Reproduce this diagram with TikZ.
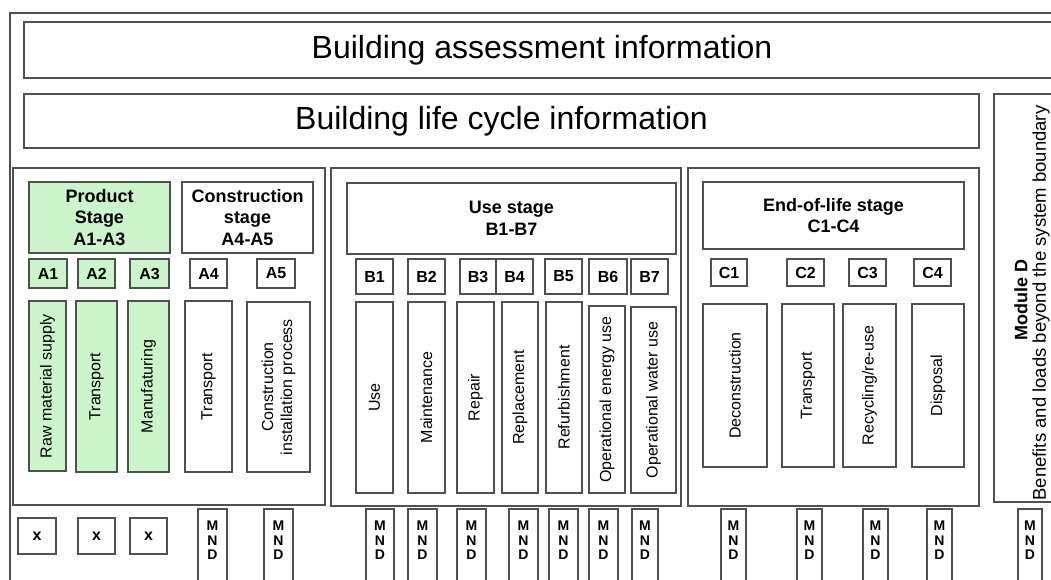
\documentclass[tikz,border=0pt]{standalone}
\usepackage{fontspec}
\setmainfont{Liberation Sans}
\definecolor{linec}{RGB}{80,80,80}
\definecolor{prodgreen}{RGB}{204,245,204}
\tikzset{
  box/.style={draw=linec,line width=1.2pt},
  greenbox/.style={box,fill=prodgreen},
  titletxt/.style={font=\fontsize{32}{38}\selectfont},
  stagetxt/.style={font=\bfseries\fontsize{18}{21.5}\selectfont,align=center},
  codetxt/.style={font=\bfseries\fontsize{16}{18}\selectfont},
  vtxt/.style={rotate=90,font=\fontsize{16}{19}\selectfont,align=center},
  mndtxt/.style={font=\bfseries\fontsize{14}{14.5}\selectfont,align=center,anchor=north,inner sep=0pt},
}
\begin{document}
\begin{tikzpicture}[x=1pt,y=-1pt]
\useasboundingbox (0,0) rectangle (1051,579);
\clip (0,0) rectangle (1051,579);
% outer frames
\draw[box] (10,13) rectangle (1075,600);
\draw[box] (24,22) rectangle (1060,78) node[midway,titletxt] (assess) {Building assessment information};
\draw[box] (24,94) rectangle (979,148) node[midway,titletxt] (lifecycle) {Building life cycle information};
\draw[box] (994,94) rectangle (1065,502);
\node[rotate=90,font=\bfseries\fontsize{18}{20}\selectfont] (moduled) at (1021,300) {Module D};
\node[rotate=90,font=\fontsize{18.5}{20}\selectfont] (beyond) at (1041,303) {Benefits and loads beyond the system boundary};
% product and construction
\draw[box] (13,168) rectangle (325,505);
\draw[greenbox] (29,182) rectangle (170,253) node[midway,stagetxt] (prodstage) {Product\\Stage\\A1-A3};
\draw[box] (182,182) rectangle (313,253) node[midway,stagetxt] (conststage) {Construction\\stage\\A4-A5};
\draw[greenbox] (29,259) rectangle (67,288) node[midway,codetxt] (a1) {A1};
\draw[greenbox] (78,259) rectangle (115,288) node[midway,codetxt] (a2) {A2};
\draw[greenbox] (130,259) rectangle (169,288) node[midway,codetxt] (a3) {A3};
\draw[box] (190,259) rectangle (227,288) node[midway,codetxt] (a4) {A4};
\draw[box] (257,259) rectangle (295,288) node[midway,codetxt] (a5) {A5};
\draw[greenbox] (29,301) rectangle (66,471) node[midway,vtxt] (raw) {Raw material supply};
\draw[greenbox] (76,301) rectangle (117,472) node[midway,vtxt] (transpa) {Transport};
\draw[greenbox] (128,301) rectangle (169,472) node[midway,vtxt] (manuf) {Manufaturing};
\draw[box] (185,301) rectangle (232,472) node[midway,vtxt] (transpb) {Transport};
\draw[box] (247,302) rectangle (310,472) node[midway,vtxt] (install) {Construction\\installation process};
% use stage
\draw[box] (331,168) rectangle (681,506);
\draw[box] (347,183) rectangle (676,254) node[midway,stagetxt] (usestage) {Use stage\\B1-B7};
\draw[box] (356,259) rectangle (393,294) node[midway,codetxt] (b1) {B1};
\draw[box] (408,259) rectangle (445,294) node[midway,codetxt] (b2) {B2};
\draw[box] (460,259) rectangle (496,294) node[midway,codetxt] (b3) {B3};
\draw[box] (496,259) rectangle (533,294) node[midway,codetxt] (b4) {B4};
\draw[box] (545,259) rectangle (582,294) node[midway,codetxt] (b5) {B5};
\draw[box] (589,259) rectangle (627,294) node[midway,codetxt] (b6) {B6};
\draw[box] (631,259) rectangle (668,294) node[midway,codetxt] (b7) {B7};
\draw[box] (356,302) rectangle (393,493) node[midway,vtxt] (use) {Use};
\draw[box] (408,302) rectangle (445,493) node[midway,vtxt] (maint) {Maintenance};
\draw[box] (457,302) rectangle (494,493) node[midway,vtxt] (repair) {Repair};
\draw[box] (502,302) rectangle (538,493) node[midway,vtxt] (replace) {Replacement};
\draw[box] (546,302) rectangle (582,493) node[midway,vtxt] (refurb) {Refurbishment};
\draw[box] (589,306) rectangle (625,493) node[midway,vtxt] (energy) {Operational energy use};
\draw[box] (631,307) rectangle (676,493) node[midway,vtxt] (water) {Operational water use};
% end of life
\draw[box] (688,168) rectangle (979,506);
\draw[box] (703,182) rectangle (964,249) node[midway,stagetxt] (eolstage) {End-of-life stage\\C1-C4};
\draw[box] (711,259) rectangle (747,286) node[midway,codetxt] (c1) {C1};
\draw[box] (787,259) rectangle (824,286) node[midway,codetxt] (c2) {C2};
\draw[box] (849,259) rectangle (886,286) node[midway,codetxt] (c3) {C3};
\draw[box] (914,259) rectangle (951,286) node[midway,codetxt] (c4) {C4};
\draw[box] (703,304) rectangle (767,467) node[midway,vtxt] (decon) {Deconstruction};
\draw[box] (782,304) rectangle (834,467) node[midway,vtxt] (transpc) {Transport};
\draw[box] (843,304) rectangle (896,467) node[midway,vtxt] (recyc) {Recycling/re-use};
\draw[box] (912,304) rectangle (964,467) node[midway,vtxt] (disposal) {Disposal};
% declared / not declared row
\draw[box] (18,518) rectangle (56,554) node[midway,codetxt] (xa1) {x};
\draw[box] (78,518) rectangle (115,554) node[midway,codetxt] (xa2) {x};
\draw[box] (130,518) rectangle (167,554) node[midway,codetxt] (xa3) {x};
\draw[box] (198,509) rectangle (227,600);
\node[mndtxt] (mnda4) at (212.5,521) {M\\N\\D};
\draw[box] (264,509) rectangle (293,600);
\node[mndtxt] (mnda5) at (278.5,521) {M\\N\\D};
\draw[box] (366,509) rectangle (394,600);
\node[mndtxt] (mndb1) at (380,521) {M\\N\\D};
\draw[box] (408,509) rectangle (437,600);
\node[mndtxt] (mndb2) at (422.5,521) {M\\N\\D};
\draw[box] (457,509) rectangle (486,600);
\node[mndtxt] (mndb3) at (471.5,521) {M\\N\\D};
\draw[box] (509,509) rectangle (538,600);
\node[mndtxt] (mndb4) at (523.5,521) {M\\N\\D};
\draw[box] (549,509) rectangle (578,600);
\node[mndtxt] (mndb5) at (563.5,521) {M\\N\\D};
\draw[box] (589,509) rectangle (618,600);
\node[mndtxt] (mndb6) at (603.5,521) {M\\N\\D};
\draw[box] (632,509) rectangle (658,600);
\node[mndtxt] (mndb7) at (645,521) {M\\N\\D};
\draw[box] (721,509) rectangle (746,600);
\node[mndtxt] (mndc1) at (733.5,521) {M\\N\\D};
\draw[box] (797,509) rectangle (822,600);
\node[mndtxt] (mndc2) at (809.5,521) {M\\N\\D};
\draw[box] (863,509) rectangle (888,600);
\node[mndtxt] (mndc3) at (875.5,521) {M\\N\\D};
\draw[box] (927,509) rectangle (952,600);
\node[mndtxt] (mndc4) at (939.5,521) {M\\N\\D};
\draw[box] (1018,509) rectangle (1042,600);
\node[mndtxt] (mndd) at (1030,521) {M\\N\\D};
\end{tikzpicture}
\end{document}
